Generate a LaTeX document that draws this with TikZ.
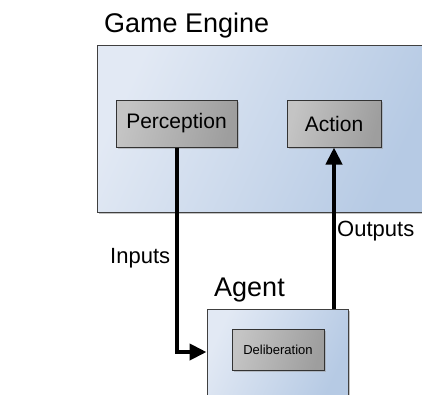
\documentclass[tikz,border=0pt]{standalone}
\usepackage{fontspec}
\setmainfont{Liberation Sans}
\usetikzlibrary{arrows.meta,shadows}
\definecolor{geA}{RGB}{226,233,244}
\definecolor{geB}{RGB}{182,202,228}
\definecolor{grA}{RGB}{196,196,196}
\definecolor{grB}{RGB}{158,158,158}
\tikzset{
  container/.style={draw=black!75, line width=1pt, left color=geA, right color=geB,
    shading angle=65, drop shadow={shadow xshift=2pt, shadow yshift=-2pt, fill=black!40, opacity=0.6},
    inner sep=0pt},
  module/.style={draw=black!80, line width=1pt, left color=grA, right color=grB,
    shading angle=75,
    drop shadow={shadow xshift=1.5pt, shadow yshift=-1.5pt, fill=black!40, opacity=0.5},
    inner sep=0pt, font=\fontsize{21pt}{24pt}\selectfont},
  small/.style={module, font=\fontsize{13pt}{15pt}\selectfont},
  title/.style={anchor=base west, inner sep=0pt, font=\fontsize{27pt}{30pt}\selectfont},
  lbl/.style={anchor=base west, inner sep=0pt, font=\fontsize{22pt}{25pt}\selectfont},
  flow/.style={line width=4pt, -{Triangle[length=17pt,width=16pt]}}
}
\begin{document}
\begin{tikzpicture}[x=1pt,y=-1pt]
\useasboundingbox (0,0) rectangle (422,394);
\node[container, minimum width=326pt, minimum height=167pt] (engine) at (260,128.5) {};
\node[module, minimum width=121pt, minimum height=47pt] (perc) at (176.5,123.5) {Perception};
\node[module, minimum width=94pt, minimum height=47pt] (act) at (334,123.5) {Action};
\node[container, minimum width=141pt, minimum height=86pt] (agent) at (277.5,352) {};
\node[small, minimum width=92pt, minimum height=41pt] (delib) at (278,349.5) {Deliberation};
\node[title] (tge) at (104,32) {Game Engine};
\node[title] (tag) at (214,296) {Agent};
\node[lbl] (tin) at (110,263) {Inputs};
\node[lbl] (tout) at (337,236) {Outputs};
\draw[flow] (perc.south) |- (agent.west);
\draw[flow] (act.south |- agent.north) -- (act.south);
\end{tikzpicture}
\end{document}
